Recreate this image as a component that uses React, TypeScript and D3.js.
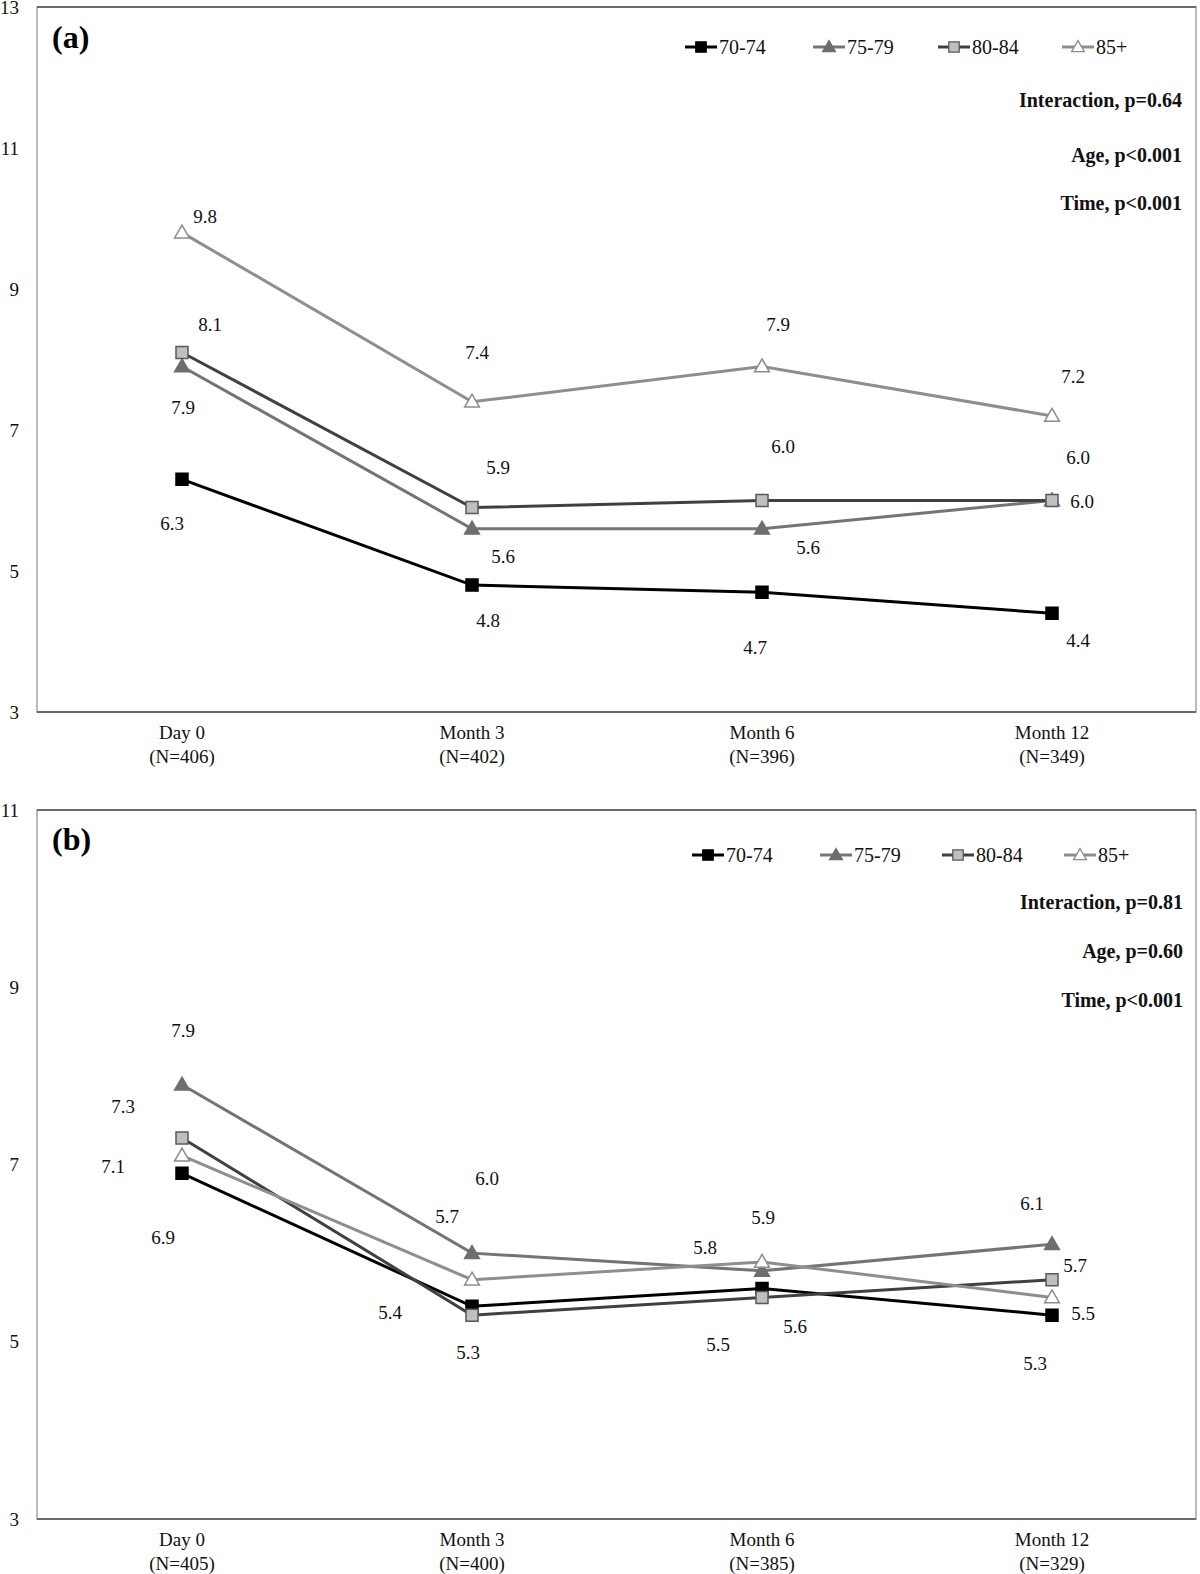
import React, { useEffect, useRef } from 'react';
import * as d3 from 'd3';

// time points and group names
const timePoints = ['Day 0', 'Month 3', 'Month 6', 'Month 12'];
const nLabelsA = ['(N=406)', '(N=402)', '(N=396)', '(N=349)'];
const nLabelsB = ['(N=405)', '(N=400)', '(N=385)', '(N=329)'];
const ageGroups = ['70-74', '75-79', '80-84', '85+'];

// series values, one row per age group
const valuesA = [
  [6.3, 4.8, 4.7, 4.4],
  [7.9, 5.6, 5.6, 6.0],
  [8.1, 5.9, 6.0, 6.0],
  [9.8, 7.4, 7.9, 7.2],
];
const valuesB = [
  [6.9, 5.4, 5.6, 5.3],
  [7.9, 6.0, 5.8, 6.1],
  [7.3, 5.3, 5.5, 5.7],
  [7.1, 5.7, 5.9, 5.5],
];

const statsA = ['Interaction, p=0.64', 'Age, p<0.001', 'Time, p<0.001'];
const statsB = ['Interaction, p=0.81', 'Age, p=0.60', 'Time, p<0.001'];

const yTicksA = [3, 5, 7, 9, 11, 13];
const yTicksB = [3, 5, 7, 9, 11];

// look of each series
const seriesStyle = [
  { line: '#000000', symbol: d3.symbolSquare, size: 144, fill: '#000000', stroke: '#000000' },
  { line: '#747474', symbol: d3.symbolTriangle, size: 95, fill: '#6e6e6e', stroke: '#6e6e6e' },
  { line: '#404040', symbol: d3.symbolSquare, size: 144, fill: '#bfbfbf', stroke: '#5a5a5a' },
  { line: '#8e8e8e', symbol: d3.symbolTriangle, size: 95, fill: '#ffffff', stroke: '#8c8c8c' },
];

// where the value labels sit, relative to their marker [dx, dy]
const labelOffsetsA = [
  [[-10, 44], [16, 35], [-7, 55], [26, 27]],
  [[1, 41], [31, 28], [46, 19], [26, -43]],
  [[28, -28], [26, -40], [21, -54], [30, 1]],
  [[23, -16], [5, -49], [16, -42], [21, -39]],
];
const labelOffsetsB = [
  [[-19, 64], [-82, 6], [33, 38], [-17, 48]],
  [[1, -54], [15, -75], [-57, -23], [-20, -41]],
  [[-59, -31], [-4, 37], [-44, 47], [23, -14]],
  [[-69, 11], [-25, -63], [1, -44], [31, 16]],
];

const FONT = '"Liberation Serif", "Times New Roman", serif';

const panels = [
  {
    tag: '(a)', tagY: 48, top: 7, bottom: 712, yMax: 13, ticks: yTicksA,
    values: valuesA, nLabels: nLabelsA, stats: statsA, statsY: [100, 155, 203],
    offsets: labelOffsetsA, legendY: 47, legendX: [685, 813, 938, 1062], statsRight: 1182,
  },
  {
    tag: '(b)', tagY: 850, top: 810, bottom: 1519, yMax: 11, ticks: yTicksB,
    values: valuesB, nLabels: nLabelsB, stats: statsB, statsY: [902, 951, 1000],
    offsets: labelOffsetsB, legendY: 855, legendX: [692, 820, 942, 1064], statsRight: 1183,
  },
];

const left = 37;
const right = 1197;

function drawPanel(svg: any, p: any) {
  const x = d3.scaleBand().domain(timePoints).range([left, right]);
  const y = d3.scaleLinear().domain([3, p.yMax]).range([p.bottom, p.top]);
  const cx = (d: string) => (x(d) as number) + x.bandwidth() / 2;

  const g = svg.append('g').attr('font-family', FONT);

  // frame
  g.append('rect')
    .attr('x', left).attr('y', p.top)
    .attr('width', right - 1 - left).attr('height', p.bottom - p.top)
    .attr('fill', 'none').attr('stroke', '#8c8c8c').attr('stroke-width', 1.2);
  g.append('line').attr('x1', left).attr('x2', right - 1).attr('y1', p.top).attr('y2', p.top)
    .attr('stroke', '#505050').attr('stroke-width', 1.3);
  g.append('line').attr('x1', left).attr('x2', right - 1).attr('y1', p.bottom).attr('y2', p.bottom)
    .attr('stroke', '#505050').attr('stroke-width', 1.3);

  // y tick labels
  g.selectAll('.ytick').data(p.ticks).enter().append('text')
    .attr('x', 19).attr('y', (d: number) => y(d))
    .attr('text-anchor', 'end').attr('dominant-baseline', 'central')
    .attr('font-size', 19).attr('fill', '#111')
    .text((d: number) => d);

  // x labels, two lines
  timePoints.forEach((t, i) => {
    const tx = g.append('text').attr('text-anchor', 'middle').attr('font-size', 19).attr('fill', '#111');
    tx.append('tspan').attr('x', cx(t)).attr('y', p.bottom + 27).text(t);
    tx.append('tspan').attr('x', cx(t)).attr('y', p.bottom + 51).text(p.nLabels[i]);
  });

  // panel tag
  g.append('text').attr('x', 52).attr('y', p.tagY)
    .attr('font-size', 32).attr('font-weight', 'bold').text(p.tag);

  const line = d3.line<number>()
    .x((d, i) => cx(timePoints[i]))
    .y((d) => y(d));

  p.values.forEach((vals: number[], s: number) => {
    const st = seriesStyle[s];
    g.append('path').datum(vals)
      .attr('d', line).attr('fill', 'none')
      .attr('stroke', st.line).attr('stroke-width', 3);

    g.selectAll('.m' + s).data(vals).enter().append('path')
      .attr('d', d3.symbol().type(st.symbol).size(st.size))
      .attr('transform', (d: number, i: number) => `translate(${cx(timePoints[i])},${y(d) + (st.symbol === d3.symbolTriangle ? 1 : 0)})`)
      .attr('fill', st.fill).attr('stroke', st.stroke).attr('stroke-width', 1.5);
  });

  // value labels
  p.values.forEach((vals: number[], s: number) => {
    vals.forEach((v, i) => {
      const off = p.offsets[s][i];
      g.append('text')
        .attr('x', cx(timePoints[i]) + off[0]).attr('y', y(v) + off[1])
        .attr('text-anchor', 'middle').attr('dominant-baseline', 'central')
        .attr('font-size', 19).attr('fill', '#111')
        .text(v.toFixed(1));
    });
  });

  // legend
  ageGroups.forEach((name, s) => {
    const st = seriesStyle[s];
    const lx = p.legendX[s];
    g.append('line').attr('x1', lx).attr('x2', lx + 32)
      .attr('y1', p.legendY).attr('y2', p.legendY)
      .attr('stroke', st.line).attr('stroke-width', 3);
    g.append('path')
      .attr('d', d3.symbol().type(st.symbol).size(st.size * 0.75))
      .attr('transform', `translate(${lx + 16},${p.legendY + (st.symbol === d3.symbolTriangle ? 1 : 0)})`)
      .attr('fill', st.fill).attr('stroke', st.stroke).attr('stroke-width', 1.3);
    g.append('text').attr('x', lx + 34).attr('y', p.legendY)
      .attr('dominant-baseline', 'central').attr('font-size', 20).attr('fill', '#111')
      .text(name);
  });

  // test results
  p.stats.forEach((t: string, i: number) => {
    g.append('text').attr('x', p.statsRight).attr('y', p.statsY[i])
      .attr('text-anchor', 'end').attr('dominant-baseline', 'central')
      .attr('font-size', 20).attr('font-weight', 'bold').attr('fill', '#111')
      .text(t);
  });
}

export default function App() {
  const ref = useRef<SVGSVGElement>(null);

  useEffect(() => {
    const svg = d3.select(ref.current);
    svg.selectAll('*').remove();
    panels.forEach((p) => drawPanel(svg, p));
  }, []);

  return (
    <svg
      ref={ref}
      width={1200}
      height={1574}
      style={{ position: 'absolute', left: 0, top: 0, background: '#fff' }}
    />
  );
}
